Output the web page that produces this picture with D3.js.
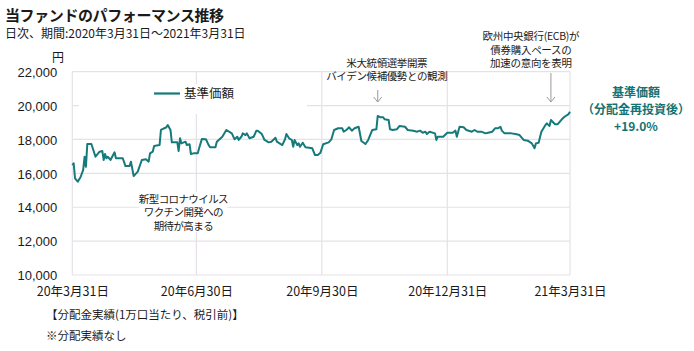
<!DOCTYPE html>
<html><head><meta charset="utf-8">
<script src="https://cdn.jsdelivr.net/npm/d3@7"></script>
<style>
body{margin:0;background:#fff;}
svg text{font-family:"Noto Sans CJK JP","Noto Sans",sans-serif;fill:#1a1a1a;}
</style></head><body>
<svg id="c" width="694" height="351"></svg>
<script>
// ---- data ----
const dates = [
"2020-03-31","2020-04-01","2020-04-02","2020-04-04","2020-04-06","2020-04-08","2020-04-09","2020-04-10","2020-04-11","2020-04-14",
"2020-04-15","2020-04-17","2020-04-20","2020-04-22","2020-04-23","2020-04-24","2020-04-25","2020-04-26","2020-04-28","2020-05-01",
"2020-05-02","2020-05-07","2020-05-09","2020-05-12","2020-05-13","2020-05-15","2020-05-18","2020-05-21","2020-05-24","2020-05-26",
"2020-05-27","2020-05-29","2020-05-30","2020-06-03","2020-06-04","2020-06-08","2020-06-09","2020-06-11","2020-06-12","2020-06-16",
"2020-06-17","2020-06-18","2020-06-19","2020-06-22","2020-06-23","2020-06-25","2020-06-26","2020-06-28","2020-07-01","2020-07-02",
"2020-07-04","2020-07-07","2020-07-09","2020-07-10","2020-07-14","2020-07-15","2020-07-19","2020-07-22","2020-07-26","2020-07-28",
"2020-07-30","2020-07-31","2020-08-02","2020-08-03","2020-08-05","2020-08-06","2020-08-08","2020-08-11","2020-08-13","2020-08-14",
"2020-08-17","2020-08-19","2020-08-22","2020-08-24","2020-08-27","2020-08-28","2020-09-01","2020-09-03","2020-09-04","2020-09-06",
"2020-09-08","2020-09-09","2020-09-10","2020-09-12","2020-09-13","2020-09-14","2020-09-16","2020-09-18","2020-09-23","2020-09-25",
"2020-09-27","2020-09-29","2020-10-01","2020-10-05","2020-10-07","2020-10-09","2020-10-12","2020-10-15","2020-10-16","2020-10-18",
"2020-10-20","2020-10-22","2020-10-24","2020-10-27","2020-10-29","2020-11-01","2020-11-03","2020-11-06","2020-11-09","2020-11-10",
"2020-11-12","2020-11-14","2020-11-15","2020-11-18","2020-11-19","2020-11-21","2020-11-24","2020-11-26","2020-11-30","2020-12-02",
"2020-12-06","2020-12-09","2020-12-11","2020-12-13","2020-12-15","2020-12-16","2020-12-18","2020-12-22","2020-12-23","2020-12-24",
"2020-12-28","2020-12-31","2021-01-04","2021-01-06","2021-01-07","2021-01-09","2021-01-12","2021-01-14","2021-01-18","2021-01-20",
"2021-01-22","2021-01-25","2021-01-28","2021-01-30","2021-02-02","2021-02-04","2021-02-06","2021-02-08","2021-02-09","2021-02-11",
"2021-02-16","2021-02-19","2021-02-22","2021-02-25","2021-02-28","2021-03-03","2021-03-05","2021-03-06","2021-03-08","2021-03-10",
"2021-03-13","2021-03-14","2021-03-16","2021-03-17","2021-03-20","2021-03-22","2021-03-25","2021-03-27","2021-03-30","2021-03-31"
];
const navValues = [
16490,16590,15710,15510,15770,16200,16980,16390,17730,17730,
17480,16980,17280,17320,16790,17140,16890,16980,16790,17240,
16890,16890,16430,16430,16690,15840,16100,16790,16830,16690,
17180,17280,17620,17670,18560,18720,18850,18560,17830,17830,
17320,18070,17770,17870,17670,17720,17140,17180,17180,17480,
18030,18010,17670,17540,17540,17870,18160,18560,18360,18010,
18160,17970,18160,18360,18260,18360,18070,18160,18520,18520,
18320,17970,17830,17870,18100,17870,17670,18010,18320,18070,
17970,17570,17970,17670,17770,17570,17810,17540,17480,17080,
17080,17220,17720,17830,18010,18560,18660,18660,18460,18560,
18720,18520,18660,18750,17910,17730,17970,18560,18600,19390,
19310,19310,19190,19150,18600,18560,18600,18800,18750,18560,
18520,18460,18520,18400,18460,18320,18460,18360,17970,18160,
18160,18400,18400,18520,18160,18750,18720,18560,18460,18560,
18460,18460,18360,18400,18460,18660,18660,18750,18520,18360,
18360,18320,18260,17970,17930,17770,17480,17770,17810,18460,
18850,18950,18800,19150,18900,18900,19190,19340,19500,19640
];
const yTicks = [10000,12000,14000,16000,18000,20000,22000];
const xTickDates = ["2020-03-31","2020-06-30","2020-09-30","2020-12-31","2021-03-31"];
const xTickLabels = ["20年3月31日","20年6月30日","20年9月30日","20年12月31日","21年3月31日"];
const seriesName = "基準価額";
const titleText = "当ファンドのパフォーマンス推移";
const subtitleText = "日次、期間:2020年3月31日～2021年3月31日";
const unitText = "円";
const noteCovid = ["新型コロナウイルス","ワクチン開発への","期待が高まる"];
const noteCovidDate = "2020-06-30";
const noteElection = ["米大統領選挙開票","バイデン候補優勢との観測"];
const noteElectionDate = "2020-11-10";
const noteEcb = ["欧州中央銀行(ECB)が","債券購入ペースの","加速の意向を表明"];
const noteEcbDate = "2021-03-17";
const rightLabel = ["基準価額","（分配金再投資後）","+19.0%"];
const footer = ["【分配金実績(1万口当たり、税引前)】","※分配実績なし"];

// ---- drawing ----
const parse = d3.timeParse("%Y-%m-%d");
const data = dates.map((d,i)=>({date:parse(d), v:navValues[i]}));
const svg = d3.select("#c");
const L = 72.3, R = 570, T = 71.7, B = 275;
const x = d3.scaleTime().domain([parse(xTickDates[0]), parse(xTickDates[4])]).range([L, R]);
const y = d3.scaleLinear().domain([10000, 22000]).range([B, T]);
const teal = "#167a7a";
const grid = "#e6e1e8";

// multi-line text block helper (one text element, tspans)
function block(lines, cx, cy0, lh, size, opts={}){
  const t = svg.append("text").attr("text-anchor", opts.anchor || "middle")
    .attr("font-size", size).attr("letter-spacing", opts.ls || 0);
  if (opts.bold) t.attr("font-weight","bold");
  if (opts.fill) t.style("fill", opts.fill);
  t.selectAll("tspan").data(lines).join("tspan")
    .attr("x", cx).attr("y", (d,i)=>cy0 + i*lh).attr("dy","0.36em").text(d=>d);
  return t;
}

// gridlines
svg.append("g").selectAll("line").data(yTicks).join("line")
  .attr("x1", L).attr("x2", R).attr("y1", d=>y(d)).attr("y2", d=>y(d))
  .attr("stroke", grid).attr("stroke-width", 1.2);
svg.append("g").selectAll("line").data(xTickDates).join("line")
  .attr("x1", d=>x(parse(d))).attr("x2", d=>x(parse(d))).attr("y1", T).attr("y2", B)
  .attr("stroke", grid).attr("stroke-width", 1.2);

// legend box (covers grid)
svg.append("rect").attr("x", 79).attr("y", 84).attr("width", 228).attr("height", 30).attr("fill", "#fff");
svg.append("line").attr("x1", 154).attr("x2", 180).attr("y1", 93.5).attr("y2", 93.5)
  .attr("stroke", teal).attr("stroke-width", 2.2);
svg.append("text").attr("x", 184).attr("y", 93.5).attr("dy","0.36em")
  .attr("font-size", 12.5).text(seriesName);

// covid note background + text
const cx = x(parse(noteCovidDate)) - 13;
svg.append("rect").attr("x", cx-44).attr("y", 192).attr("width", 88).attr("height", 40).attr("fill","#fff");
block(noteCovid, cx, 199, 13.5, 10.5, {ls:-0.6});

// line
svg.append("path").datum(data)
  .attr("d", d3.line().x(d=>x(d.date)).y(d=>y(d.v)))
  .attr("fill","none").attr("stroke", teal).attr("stroke-width", 2).attr("stroke-linejoin","round");

// axes
const ya = svg.append("g").attr("transform", `translate(${L},0)`)
  .call(d3.axisLeft(y).tickValues(yTicks).tickFormat(d3.format(",")).tickSize(0).tickPadding(15));
ya.select(".domain").remove();
ya.selectAll("text").attr("font-size", 13).attr("dy", "0.36em")
  .style("font-family","'Liberation Sans',Arial,sans-serif").attr("fill","#1a1a1a");

const xa = svg.append("g").attr("transform", `translate(0,${B})`)
  .call(d3.axisBottom(x).tickValues(xTickDates.map(parse)).tickFormat((d,i)=>xTickLabels[i]).tickSize(0));
xa.select(".domain").remove();
xa.selectAll("text").attr("font-size", 12.5).attr("y", 16).attr("dy", "0.36em").attr("fill","#1a1a1a");

svg.append("text").attr("x", 58).attr("y", 58).attr("text-anchor","middle").attr("dy","0.36em")
  .attr("font-size", 12).text(unitText);

// title
svg.append("text").attr("x", 5).attr("y", 16).attr("dy","0.36em")
  .attr("font-size", 15).attr("font-weight","bold").attr("letter-spacing", -0.4).text(titleText);
svg.append("text").attr("x", 5).attr("y", 33.5).attr("dy","0.36em")
  .attr("font-size", 12).text(subtitleText);

// annotations with arrows
function arrow(xp, y1, y2){
  svg.append("line").attr("x1",xp).attr("x2",xp).attr("y1",y1).attr("y2",y2)
    .attr("stroke","#9a9a9a").attr("stroke-width",1);
  svg.append("path").attr("d",`M${xp-4},${y2-5}L${xp},${y2}L${xp+4},${y2-5}`)
    .attr("fill","none").attr("stroke","#9a9a9a").attr("stroke-width",1);
}
const ex = x(parse(noteElectionDate));
block(noteElection, ex+9, 63, 13.5, 10.5, {ls:-0.4});
arrow(ex, 90, 102);
const bx = x(parse(noteEcbDate));
block(noteEcb, bx-20, 36.5, 13.5, 10.5, {ls:-0.3});
arrow(bx, 73, 102);

// right label
block(rightLabel, 636, 92.5, 17, 12, {bold:true, fill:"#137272"});

// footer
block(footer, 46, 315, 21, 11.5, {anchor:"start"});
</script>
</body></html>
